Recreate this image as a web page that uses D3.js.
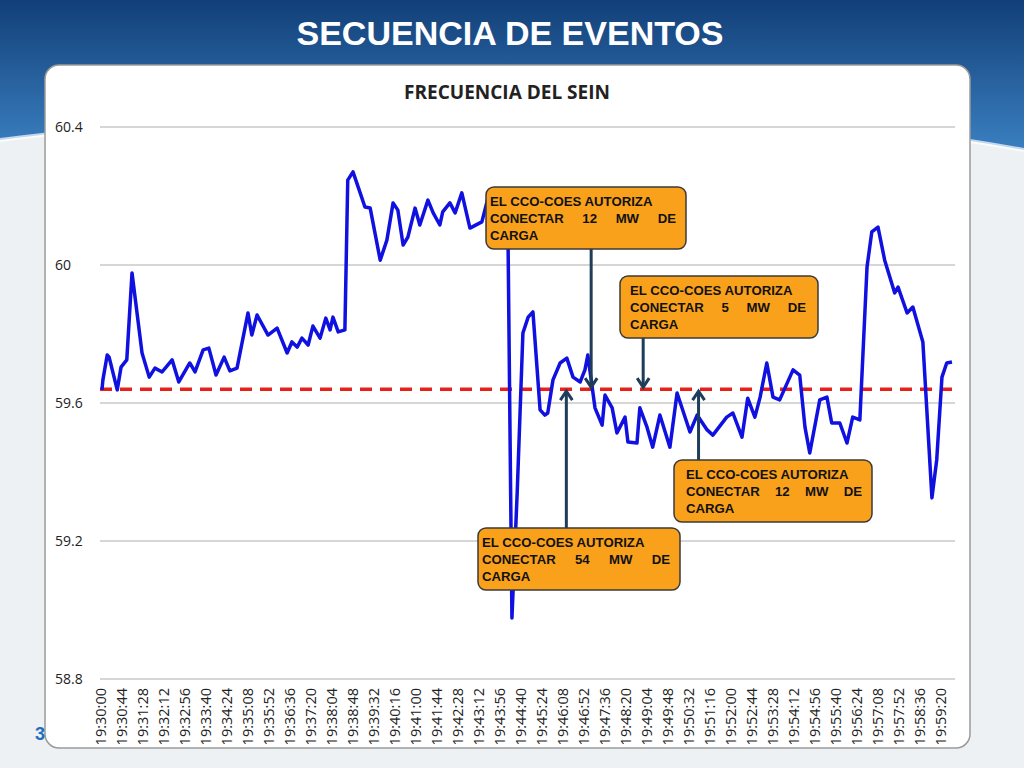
<!DOCTYPE html>
<html><head><meta charset="utf-8">
<script src="https://cdn.jsdelivr.net/npm/d3@7"></script>
<style>body{margin:0;width:1024px;height:768px;overflow:hidden;font-family:"Liberation Sans",Arial,sans-serif}</style>
</head><body>
<svg id="c" width="1024" height="768"></svg>
<script>
const seconds=[2,4,13,17,34,42,54,65,86,101,113,128,149,163,186,197,214,226,241,258,270,285,308,316,327,350,369,390,400,411,421,434,444,459,471,480,486,497,511,517,528,543,553,564,585,599,612,622,633,643,658,668,685,696,710,716,731,742,756,773,798,815,836,853,861,872,884,895,905,920,930,936,947,962,976,989,1004,1014,1020,1035,1050,1056,1071,1081,1098,1104,1123,1129,1144,1156,1171,1192,1207,1234,1249,1270,1282,1311,1324,1343,1355,1370,1381,1395,1408,1422,1450,1464,1475,1485,1506,1521,1531,1548,1563,1575,1590,1605,1615,1628,1642,1663,1670,1689,1701,1722,1741,1751,1762,1772,1783];
const freq=[59.638,59.667,59.739,59.733,59.638,59.704,59.725,59.977,59.745,59.675,59.701,59.690,59.725,59.661,59.716,59.690,59.754,59.759,59.681,59.733,59.693,59.701,59.861,59.797,59.855,59.797,59.817,59.745,59.777,59.762,59.788,59.768,59.823,59.788,59.846,59.812,59.849,59.806,59.812,60.246,60.270,60.209,60.168,60.165,60.014,60.072,60.180,60.159,60.058,60.081,60.165,60.116,60.188,60.151,60.116,60.154,60.180,60.151,60.209,60.107,60.125,60.217,60.145,60.052,58.977,59.339,59.803,59.849,59.864,59.580,59.565,59.571,59.667,59.716,59.730,59.675,59.661,59.696,59.739,59.586,59.536,59.623,59.586,59.513,59.559,59.487,59.484,59.586,59.530,59.472,59.565,59.472,59.629,59.516,59.565,59.522,59.507,59.559,59.571,59.501,59.614,59.559,59.617,59.716,59.617,59.609,59.696,59.681,59.530,59.455,59.609,59.617,59.542,59.542,59.484,59.559,59.551,59.994,60.096,60.110,60.014,59.919,59.936,59.861,59.878,59.777,59.325,59.435,59.675,59.716,59.719];
const yTicks=[58.8,59.2,59.6,60,60.4];
const refLevel=59.64;
const tickStart=0, tickStep=44, tickCount=41;
const title="SECUENCIA DE EVENTOS", chartTitle="FRECUENCIA DEL SEIN";
const notes=[
 {t:1027,mw:12,dir:"down"},
 {t:1136,mw:5,dir:"down"},
 {t:1252,mw:12,dir:"up"},
 {t:975,mw:54,dir:"up"}
];
const boxes=[[486,187],[620,276],[674,460],[478,528]];
const boxW=[200,198,198,202];

const svg=d3.select("#c");
const defs=svg.append("defs");
const g1=defs.append("linearGradient").attr("id","hg").attr("x1",0).attr("y1",0).attr("x2",0).attr("y2",1);
g1.append("stop").attr("offset",0).attr("stop-color","#123f78");
g1.append("stop").attr("offset",1).attr("stop-color","#3a7fc0");
svg.append("rect").attr("width",1024).attr("height",768).attr("fill","#eef1f4");
svg.append("path").attr("d","M0,0H1024V150C800,110 500,95 300,110C180,120 80,130 0,140Z").attr("fill","url(#hg)");
svg.append("path").attr("d","M0,140C80,130 180,120 300,110C500,95 800,110 1024,150").attr("fill","none").attr("stroke","#fff").attr("stroke-width",4).attr("opacity",0.7);
svg.append("text").attr("x",510).attr("y",45).attr("text-anchor","middle").attr("fill","#fff").attr("font-weight","bold").attr("font-size",34).text(title);
svg.append("rect").attr("x",45).attr("y",65).attr("width",925).attr("height",683).attr("rx",14).attr("fill","#fff").attr("stroke","#9a9a9a").attr("stroke-width",1.5);
svg.append("text").attr("x",40).attr("y",740).attr("text-anchor","middle").attr("fill","#1f6fbf").attr("font-weight","bold").attr("font-size",18).text("3");
svg.append("text").attr("x",507).attr("y",99).attr("text-anchor","middle").attr("fill","#222").attr("font-weight","bold").attr("font-size",19).attr("font-family","Open Sans").text(chartTitle);

const x=d3.scaleLinear().domain([0,1760]).range([101,941]);
const y=d3.scaleLinear().domain([58.8,60.4]).range([679,127]);
const ga=svg.append("g");
yTicks.forEach(v=>{
 ga.append("line").attr("x1",100).attr("x2",955).attr("y1",y(v)).attr("y2",y(v)).attr("stroke","#c8c8c8").attr("stroke-width",1.5);
 ga.append("text").attr("x",55).attr("y",y(v)+5).attr("font-size",14).attr("fill","#222").attr("font-family","Open Sans").text(v);
});
const fmt=s=>{const tt=19*3600+30*60+s;const h=Math.floor(tt/3600),m=Math.floor(tt%3600/60),sc=tt%60;return h+":"+String(m).padStart(2,"0")+":"+String(sc).padStart(2,"0");};
d3.range(tickCount).forEach(i=>{
 const s=tickStart+i*tickStep;
 ga.append("text").attr("transform",`translate(${x(s)+5},688) rotate(-90)`).attr("text-anchor","end").attr("font-size",14.5).attr("fill","#222").attr("font-family","Open Sans").text(fmt(s));
});
svg.append("line").attr("x1",100).attr("x2",955).attr("y1",y(refLevel)).attr("y2",y(refLevel)).attr("stroke","#e8201a").attr("stroke-width",3.5).attr("stroke-dasharray","12,8");
const pts=seconds.map((s,i)=>[s,freq[i]]);
svg.append("path").attr("d",d3.line().x(d=>x(d[0])).y(d=>y(d[1]))(pts)).attr("fill","none").attr("stroke","#1010e0").attr("stroke-width",3.5).attr("stroke-linejoin","round");

notes.forEach((n,i)=>{
 const [bx,by]=boxes[i], w=boxW[i], h=62;
 const ax=x(n.t), ay=y(refLevel);
 const sy=n.dir==="down"?by+h:by;
 const tipY=n.dir==="down"?ay-2:ay+2;
 svg.append("line").attr("x1",ax).attr("x2",ax).attr("y1",sy).attr("y2",tipY).attr("stroke","#1e3d59").attr("stroke-width",3);
 const d=n.dir==="down"?-1:1;
 svg.append("path").attr("d",`M${ax-6},${tipY+d*9}L${ax},${tipY}L${ax+6},${tipY+d*9}`).attr("fill","none").attr("stroke","#1e3d59").attr("stroke-width",3);
 svg.append("rect").attr("x",bx).attr("y",by).attr("width",w).attr("height",h).attr("rx",8).attr("fill","#f9a11b").attr("stroke","#3a3a3a").attr("stroke-width",1.5);
 const t=svg.append("g").attr("font-size",13.2).attr("font-weight","bold").attr("fill","#111");
 const tx=bx+(i===1?10:(i===2?12:4));
 const first=t.append("text").attr("x",tx).attr("y",by+19).text("EL CCO-COES AUTORIZA");
 const lineW=w-(i===1||i===2?22:14);
 const words=["CONECTAR",String(n.mw),"MW","DE"];
 const nodes=words.map(wd=>t.append("text").attr("y",by+36).text(wd));
 const widths=nodes.map(nd=>nd.node().getComputedTextLength());
 const gap=(lineW-d3.sum(widths))/3;
 let cx=tx;
 nodes.forEach((nd,k)=>{nd.attr("x",cx);cx+=widths[k]+gap;});
 t.append("text").attr("x",tx).attr("y",by+53).text("CARGA");
});
</script></body></html>
